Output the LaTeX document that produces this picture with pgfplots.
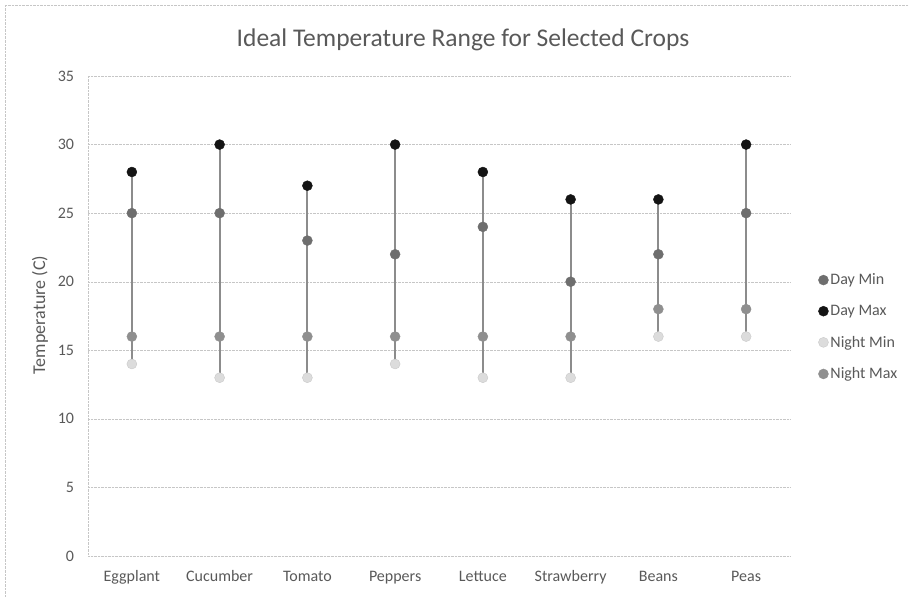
\documentclass[border=0pt]{standalone}
\usepackage{pgfplots}
\pgfplotsset{compat=1.18}
\usepackage{pgfplotstable}
\usepackage{fontspec}
\setmainfont{Carlito}
\definecolor{txt}{HTML}{595959}
\definecolor{linec}{HTML}{8C8C8C}
\definecolor{dmincol}{HTML}{6E6E6E}
\definecolor{dmaxcol}{HTML}{141414}
\definecolor{nmincol}{HTML}{DCDCDC}
\definecolor{nmaxcol}{HTML}{8F8F8F}
\pgfplotstableread{
x dmin dmax nmin nmax
0 25 28 14 16
1 25 30 13 16
2 23 27 13 16
3 22 30 14 16
4 24 28 13 16
5 20 26 13 16
6 22 26 16 18
7 25 30 16 18
}\data
\begin{document}
\begin{tikzpicture}
\useasboundingbox (0,0) rectangle (909bp,598bp);
\draw[gray!45, densely dotted] (5bp,0) -- (5bp,593bp) -- (909bp,593bp);
\node[text=txt, font=\fontsize{25.5bp}{30bp}\selectfont] at (463bp,558bp) {Ideal Temperature Range for Selected Crops};
\begin{axis}[
  at={(88bp,42bp)}, anchor=south west,
  width=702bp, height=480bp, scale only axis,
  xmin=-0.5, xmax=7.5, ymin=0, ymax=35,
  ytick={0,5,...,35}, xtick={0,...,7},
  xticklabels={Eggplant,Cucumber,Tomato,Peppers,Lettuce,Strawberry,Beans,Peas},
  axis lines*=left,
  axis line style={gray!45, densely dotted},
  major tick length=0pt,
  ymajorgrids, grid style={gray!45, densely dotted},
  tick label style={text=txt, font=\fontsize{16bp}{18bp}\selectfont},
  yticklabel style={xshift=-10.5bp},
  xticklabel style={yshift=-11bp, text height=11bp, text depth=3.5bp},
  /pgf/number format/assume math mode=true,
  ylabel={Temperature (C)},
  ylabel style={at={(axis description cs:-0.0684,0.502)}, anchor=center, text=txt, font=\fontsize{18bp}{20bp}\selectfont},
  legend style={at={(axis description cs:1.036,0.477)}, anchor=west, draw=none, fill=none,
    font=\fontsize{16bp}{18bp}\selectfont, text=txt, row sep=15bp},
  legend cell align=left,
  clip=false,
]
\addplot[forget plot, draw=none, mark=none,
  error bars/.cd, y dir=plus, y explicit, error mark=none,
  error bar style={draw=linec, solid, line width=2bp}]
  table[x=x, y=nmin, y error expr=\thisrow{dmax}-\thisrow{nmin}] {\data};
\addplot[only marks, mark=*, mark size=5bp, mark options={draw=dmincol, fill=dmincol}] table[x=x, y=dmin] {\data};
\addlegendentry{Day Min}
\addplot[only marks, mark=*, mark size=5bp, mark options={draw=dmaxcol, fill=dmaxcol}] table[x=x, y=dmax] {\data};
\addlegendentry{Day Max}
\addplot[only marks, mark=*, mark size=5bp, mark options={draw=nmincol!80!gray, fill=nmincol}] table[x=x, y=nmin] {\data};
\addlegendentry{Night Min}
\addplot[only marks, mark=*, mark size=5bp, mark options={draw=nmaxcol, fill=nmaxcol}] table[x=x, y=nmax] {\data};
\addlegendentry{Night Max}
\end{axis}
\end{tikzpicture}
\end{document}
